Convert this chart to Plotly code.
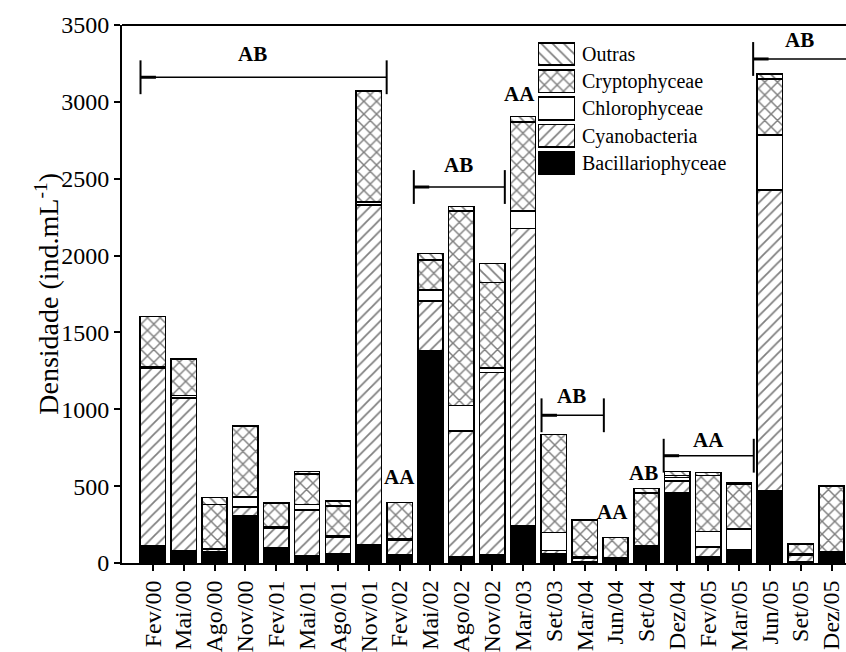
import plotly.graph_objects as go

categories = ["Fev/00", "Mai/00", "Ago/00", "Nov/00", "Fev/01", "Mai/01", "Ago/01", "Nov/01",
              "Fev/02", "Mai/02", "Ago/02", "Nov/02", "Mar/03", "Set/03", "Mar/04", "Jun/04",
              "Set/04", "Dez/04", "Fev/05", "Mar/05", "Jun/05", "Set/05", "Dez/05"]

bacillariophyceae = [110, 80, 70, 305, 100, 45, 60, 120, 55, 1380, 40, 55, 245, 60, 10, 15, 105, 460, 40, 80, 470, 10, 45]
cyanobacteria = [1160, 995, 20, 60, 125, 300, 110, 2210, 90, 325, 820, 1185, 1930, 20, 20, 10, 5, 75, 65, 5, 1955, 40, 15]
chlorophyceae = [5, 15, 5, 65, 10, 35, 10, 20, 10, 70, 165, 30, 115, 120, 10, 10, 0, 20, 100, 135, 360, 10, 10]
cryptophyceae = [330, 235, 285, 460, 155, 200, 190, 720, 240, 195, 1265, 555, 580, 635, 240, 130, 345, 15, 365, 295, 365, 65, 430]
outras = [0, 5, 45, 0, 0, 15, 35, 0, 0, 45, 30, 125, 35, 0, 0, 0, 30, 25, 20, 10, 30, 0, 0]

y_ticks = [0, 500, 1000, 1500, 2000, 2500, 3000, 3500]

# bracket groups: (label, x_start, x_end, y_line, y_text, x_text)
brackets = [
    ("AB", -0.40, 7.58, 3160, 3310, 3.23),
    ("AB", 8.46, 11.41, 2446, 2590, 9.9),
    ("AB", 12.60, 14.62, 961, 1085, 13.58),
    ("AA", 16.56, 19.48, 698, 800, 18.0),
    ("AB", 19.46, 23.5, 3279, 3400, 20.97),
]
single_labels = [("AA", 8, 560), ("AA", 11.9, 3050), ("AA", 14.9, 330), ("AB", 15.9, 585)]

FONT = "Liberation Serif"
series = [
    ("Bacillariophyceae", bacillariophyceae, dict(shape="", bgcolor="black", fgcolor="black"), "black"),
    ("Cyanobacteria", cyanobacteria, dict(shape="/", bgcolor="white", fgcolor="black", size=8, solidity=0.22), "white"),
    ("Chlorophyceae", chlorophyceae, dict(shape="", bgcolor="white", fgcolor="black"), "white"),
    ("Cryptophyceae", cryptophyceae, dict(shape="x", bgcolor="white", fgcolor="black", size=9, solidity=0.3), "white"),
    ("Outras", outras, dict(shape="\\", bgcolor="white", fgcolor="black", size=8, solidity=0.22), "white"),
]
legend_names = [s[0] for s in series]

fig = go.Figure()
for name, vals, pat, col in series:
    fig.add_trace(go.Bar(
        x=categories, y=vals, name=name, showlegend=False,
        marker=dict(color=col, pattern=pat, line=dict(color="black", width=1.5)),
    ))
# legend swatches drawn as a small horizontal bar panel
for name, vals, pat, col in series:
    fig.add_trace(go.Bar(
        y=[name], x=[1], orientation="h", xaxis="x2", yaxis="y2", showlegend=False,
        hoverinfo="skip",
        marker=dict(color=col, pattern=pat, line=dict(color="black", width=1.8)),
    ))

shapes = []
for lab, x0, x1, yl, yt, xt in brackets:
    shapes.append(dict(type="line", xref="x", yref="y", x0=x0, x1=x1, y0=yl, y1=yl,
                       line=dict(color="black", width=1.5)))
    shapes.append(dict(type="line", xref="x", yref="y", x0=x0, x1=x0 + 0.5, y0=yl, y1=yl,
                       line=dict(color="black", width=3)))
    shapes.append(dict(type="line", xref="x", yref="y", x0=x0, x1=x0, y0=yl - 110, y1=yl + 110,
                       line=dict(color="black", width=2)))
    if x1 < 23:
        shapes.append(dict(type="line", xref="x", yref="y", x0=x1, x1=x1, y0=yl - 110, y1=yl + 110,
                           line=dict(color="black", width=2)))
shapes.append(dict(type="line", xref="paper", yref="paper", x0=0, x1=1, y0=1, y1=1,
                   line=dict(color="black", width=2)))

annotations = []
for lab, x0, x1, yl, yt, xt in brackets:
    annotations.append(dict(x=xt, y=yt, xref="x", yref="y", text="<b>%s</b>" % lab, showarrow=False,
                            font=dict(family=FONT, size=21, color="black")))
for lab, xt, yt in single_labels:
    annotations.append(dict(x=xt, y=yt, xref="x", yref="y", text="<b>%s</b>" % lab, showarrow=False,
                            font=dict(family=FONT, size=21, color="black")))
annotations.append(dict(x=-0.104, y=0.5, xref="paper", yref="paper", textangle=-90,
                        xanchor="center", yanchor="middle",
                        text="Densidade (ind.mL<sup>-1</sup>)", showarrow=False,
                        font=dict(family=FONT, size=28, color="black")))

fig.update_layout(
    width=846, height=652,
    margin=dict(l=122, r=0, t=25, b=89),
    paper_bgcolor="white", plot_bgcolor="white",
    barmode="stack", bargap=0.18,
    font=dict(family=FONT, color="black"),
    shapes=shapes, annotations=annotations,
    showlegend=False,
    xaxis=dict(type="category", range=[-1.0, 22.47], showline=True, linecolor="black", linewidth=2,
               ticks="outside", ticklen=6, tickwidth=1.5, tickcolor="black", tickangle=-90,
               tickfont=dict(family=FONT, size=24), showgrid=False, zeroline=False),
    yaxis=dict(range=[0, 3500], tickvals=y_ticks, showline=True, linecolor="black", linewidth=2,
               ticks="outside", ticklen=6, tickwidth=1.5, tickcolor="black",
               tickfont=dict(family=FONT, size=24), showgrid=False, zeroline=False),
    xaxis2=dict(domain=[0.5746, 0.6257], anchor="y2", range=[0, 1], visible=False, fixedrange=True),
    yaxis2=dict(domain=[0.7182, 0.9714], anchor="x2", side="right", type="category",
                categoryorder="array", categoryarray=legend_names, range=[-0.5, 4.5],
                showline=False, showgrid=False, zeroline=False, ticks="", ticklabelstandoff=6,
                tickfont=dict(family=FONT, size=20, color="black"), fixedrange=True),
)

fig.write_html("out.html", config={"displayModeBar": False},
               post_script="document.body.style.margin='0';")
